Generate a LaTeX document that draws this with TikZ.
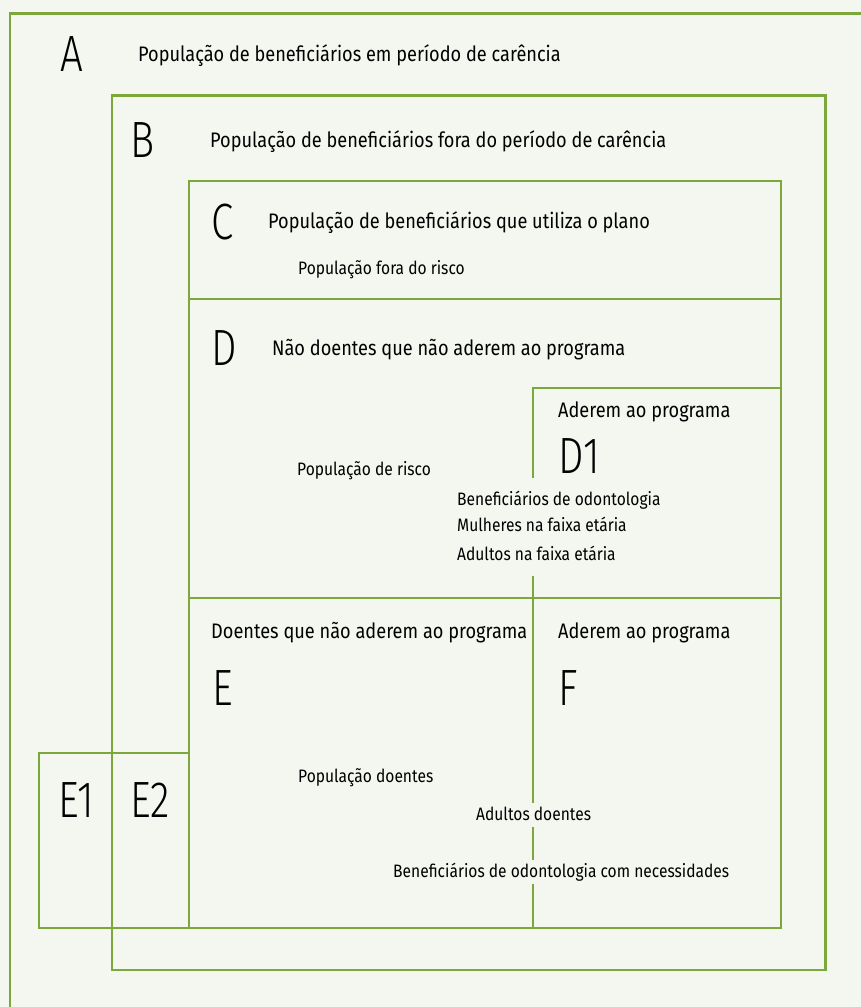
\documentclass[tikz,border=0pt]{standalone}
\usepackage{fontspec}
\setmainfont{Fira Sans}[FakeStretch=0.865]
\newfontfamily\letterfont{Fira Sans Light}[FakeStretch=0.79]
\definecolor{bgpaper}{HTML}{F4F7EF}
\definecolor{boxgreen}{HTML}{7CA83B}

\begin{document}
\begin{tikzpicture}[x=1pt,y=-1pt,
  box/.style={draw=boxgreen, line width=2.8pt},
  bigletter/.style={anchor=base west, inner sep=0pt, font=\letterfont\fontsize{51}{51}\selectfont},
  title/.style={anchor=base west, inner sep=0pt, font=\fontsize{21}{25}\selectfont},
  note/.style={anchor=base west, inner sep=0pt, font=\fontsize{18}{22}\selectfont}]
\fill[bgpaper] (0,0) rectangle (861,1007);
\useasboundingbox (0,0) rectangle (861,1007);

% nested populations
\draw[box] (10,1010) -- (10,13.5) -- (865,13.5);
\draw[box] (112,95.5) rectangle (825.5,970);
\draw[box] (189,181) rectangle (781,928);
\draw[box] (189,299) -- (781,299);
\draw[box] (189,598) -- (781,598);
\draw[box] (39,753) rectangle (189,928);

% D1 and F, broken by the texts
\draw[box] (781,388) -- (533,388) -- (533,478);
\draw[box] (533,576) -- (533,598);
\draw[box] (533,598) -- (533,803);
\draw[box] (533,827) -- (533,860);
\draw[box] (533,884) -- (533,928);

\node[bigletter] (lA) at (60,71) {A};
\node[title] (tA) at (138,61) {População de beneficiários em período de carência};
\node[bigletter] (lB) at (130,157) {B};
\node[title] (tB) at (210,147) {População de beneficiários fora do período de carência};
\node[bigletter] (lC) at (211,239) {C};
\node[title] (tC) at (268,228) {População de beneficiários que utiliza o plano};
\node[note] (nC) at (298,274) {População fora do risco};

\node[bigletter] (lD) at (211,365) {D};
\node[title] (tD) at (272,355) {Não doentes que não aderem ao programa};
\node[note] (nD) at (297,475) {População de risco};
\node[title] (tD1) at (558,417) {Aderem ao programa};
\node[bigletter] (lD1) at (558,473) {D1};
\node[note] (nD1a) at (457,505) {Beneficiários de odontologia};
\node[note] (nD1b) at (457,531) {Mulheres na faixa etária};
\node[note] (nD1c) at (457,560) {Adultos na faixa etária};

\node[title] (tE) at (211,638) {Doentes que não aderem ao programa};
\node[title] (tF) at (558,638) {Aderem ao programa};
\node[bigletter] (lE) at (212,705) {E};
\node[bigletter] (lF) at (558,705) {F};
\node[note] (nE) at (298,782) {População doentes};
\node[note] (nF1) at (476,820) {Adultos doentes};
\node[note] (nF2) at (393,877) {Beneficiários de odontologia com necessidades};

\node[bigletter] (lE1) at (58,817) {E1};
\node[bigletter] (lE2) at (130,817) {E2};
\end{tikzpicture}
\end{document}
